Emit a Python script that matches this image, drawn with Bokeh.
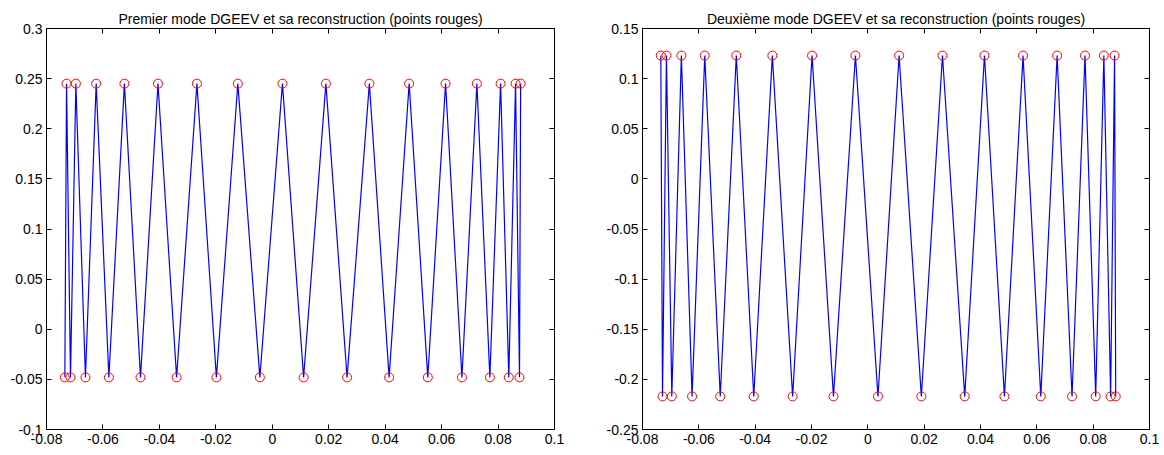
from bokeh.plotting import figure
from bokeh.models import FixedTicker, CustomJSTickFormatter, LinearAxis, Range1d
from bokeh.layouts import row
from bokeh.embed import file_html
from bokeh.resources import INLINE

# abscissae of the two interleaved sets of points
x_a = [-0.0729, -0.0696, -0.0624, -0.0524, -0.0405, -0.0267, -0.0122, 0.0036,
       0.0190, 0.0344, 0.0485, 0.0614, 0.0725, 0.0809, 0.0862, 0.0880]
x_b = [-0.0735, -0.0715, -0.0662, -0.0579, -0.0467, -0.0339, -0.0198, -0.0044,
       0.0111, 0.0265, 0.0414, 0.0551, 0.0672, 0.0771, 0.0838, 0.0876]

# mode 1: A points high, B points low
m1_a = [0.245] * 16
m1_b = [-0.048] * 16
# mode 2: A points low, B points high
m2_a = [-0.217] * 16
m2_b = [0.123] * 16

titles = ["Premier mode DGEEV et sa reconstruction (points rouges)",
          "Deuxième mode DGEEV et sa reconstruction (points rouges)"]
x_ticks = [-0.08, -0.06, -0.04, -0.02, 0, 0.02, 0.04, 0.06, 0.08, 0.1]
y1_ticks = [-0.1, -0.05, 0, 0.05, 0.1, 0.15, 0.2, 0.25, 0.3]
y2_ticks = [-0.25, -0.2, -0.15, -0.1, -0.05, 0, 0.05, 0.1, 0.15]

FONT = "Liberation Sans"
fmt_code = "return Number(tick.toFixed(4)).toString();"


def interleave(xb, yb, xa, ya):
    xs, ys = [], []
    for i in range(len(xa)):
        xs += [xb[i], xa[i]]
        ys += [yb[i], ya[i]]
    return xs, ys


def make(title, xb, yb, xa, ya, yticks, bl, br, fw):
    p = figure(width=bl + fw + br, height=452, frame_width=fw, frame_height=401,
               output_backend="svg", toolbar_location=None,
               x_range=Range1d(-0.08, 0.1), y_range=Range1d(yticks[0], yticks[-1]),
               min_border_left=bl, min_border_right=br, min_border_top=28, min_border_bottom=5)
    p.title.text = title
    p.title.align = "center"
    p.title.text_font = FONT
    p.title.text_font_size = "14px"
    p.title.text_font_style = "normal"
    p.title.text_color = "black"
    p.title.standoff = 4
    p.xgrid.visible = False
    p.ygrid.visible = False
    p.outline_line_color = "black"
    p.outline_line_width = 1
    p.outline_line_alpha = 1
    p.background_fill_color = "white"
    p.border_fill_color = "white"

    for ax, ticks in ((p.xaxis[0], x_ticks), (p.yaxis[0], yticks)):
        ax.ticker = FixedTicker(ticks=ticks)
        ax.formatter = CustomJSTickFormatter(code=fmt_code)
        ax.major_tick_in = 5
        ax.major_tick_out = 0
        ax.minor_tick_line_color = None
        ax.major_label_text_font = FONT
        ax.major_label_text_font_size = "14px"
        ax.major_label_text_color = "black"
        ax.major_label_standoff = 4
        ax.axis_line_color = "black"
        ax.major_tick_line_color = "black"
    for side, ticks in (("above", x_ticks), ("right", yticks)):
        ax = LinearAxis(ticker=FixedTicker(ticks=ticks))
        ax.major_tick_in = 5
        ax.major_tick_out = 0
        ax.minor_tick_line_color = None
        ax.major_label_text_color = None
        ax.major_label_standoff = 0
        ax.axis_line_color = "black"
        ax.major_tick_line_color = "black"
        p.add_layout(ax, side)

    xs, ys = interleave(xb, yb, xa, ya)
    p.line(xs, ys, line_color="#0000FF", line_width=1.2)
    p.scatter(xa, ya, size=9, marker="circle", fill_color=None, line_color="#FF0000", line_width=1)
    p.scatter(xb, yb, size=9, marker="circle", fill_color=None, line_color="#FF0000", line_width=1)
    return p


p1 = make(titles[0], x_b, m1_b, x_a, m1_a, y1_ticks, 46, 44, 508)
p2 = make(titles[1], x_b, m2_b, x_a, m2_a, y2_ticks, 44, 10, 507)
layout = row(p1, p2)

open("out.html", "w").write(file_html(layout, INLINE))
